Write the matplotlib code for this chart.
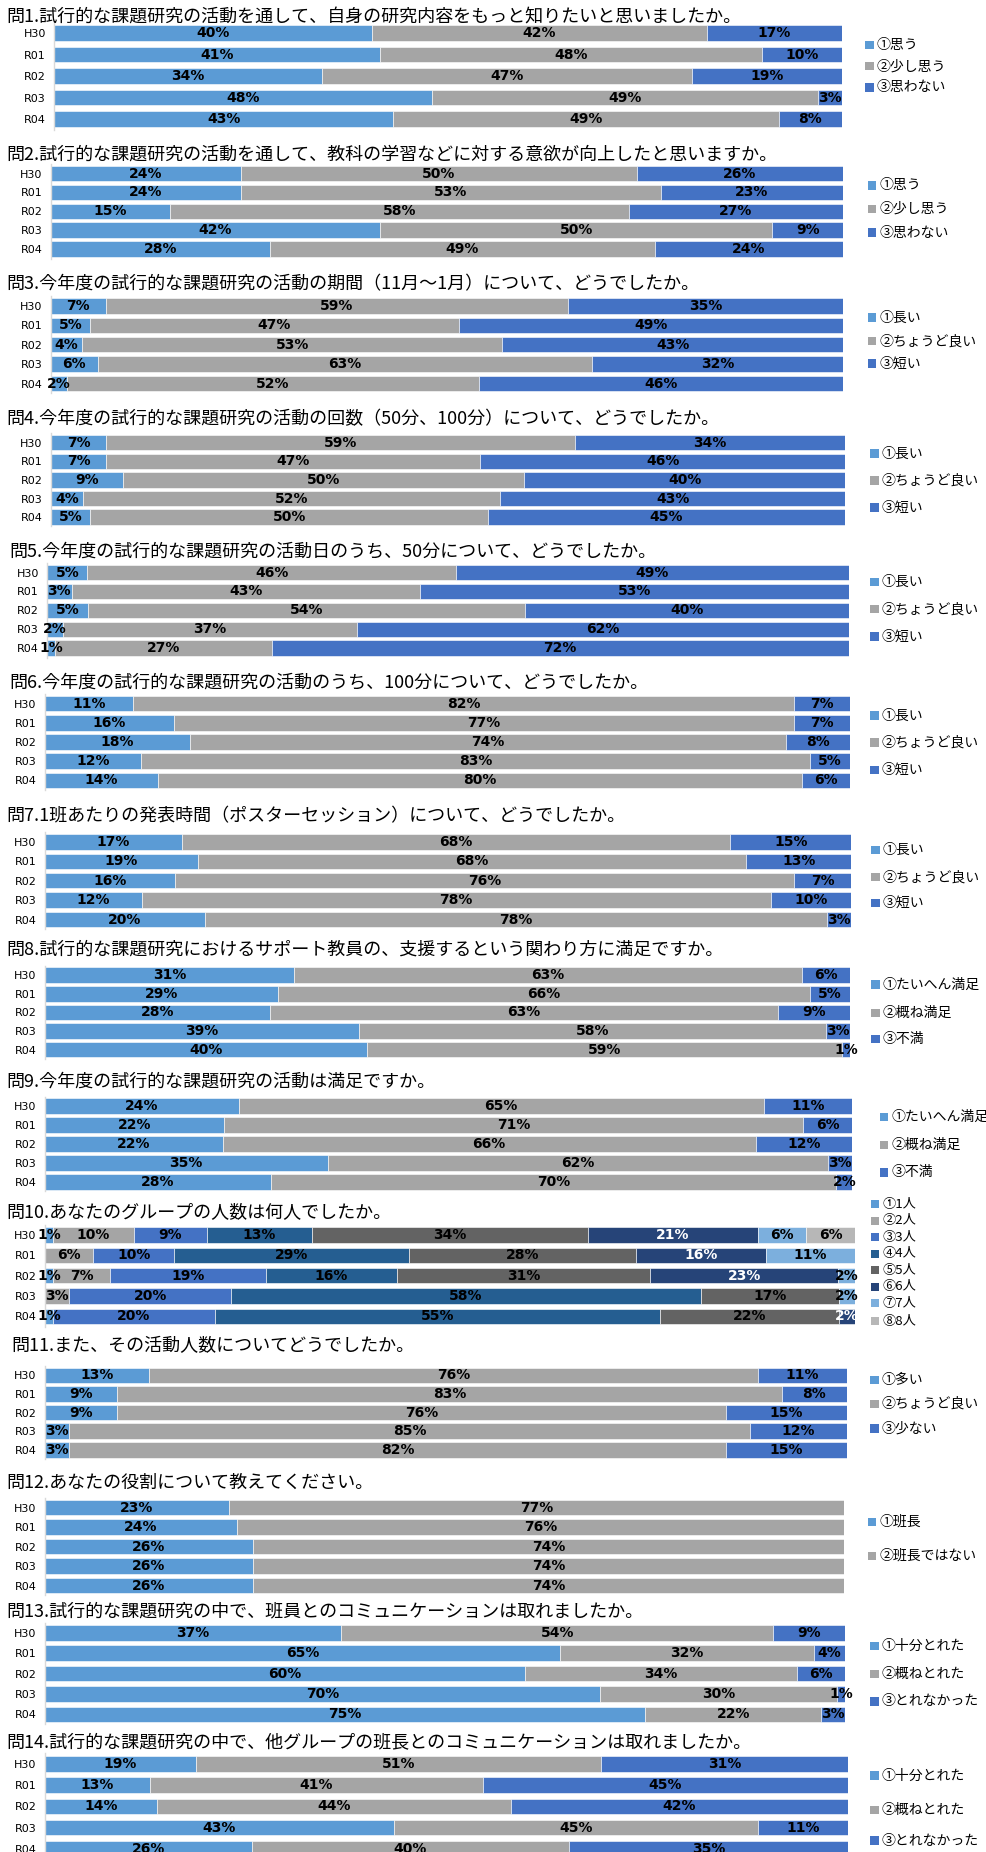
import matplotlib
matplotlib.use("Agg")
import matplotlib.pyplot as plt
import matplotlib.font_manager as fm
from matplotlib.patches import Rectangle

plt.rcParams['font.family'] = ['Noto Sans CJK JP', 'DejaVu Sans']
_names = {f.name for f in fm.fontManager.ttflist}
NARROW = 'Liberation Sans Narrow' if 'Liberation Sans Narrow' in _names else 'DejaVu Sans'

# ---------------- data ----------------
years = ["H30", "R01", "R02", "R03", "R04"]

titles = [
    "問1.試行的な課題研究の活動を通して、自身の研究内容をもっと知りたいと思いましたか。",
    "問2.試行的な課題研究の活動を通して、教科の学習などに対する意欲が向上したと思いますか。",
    "問3.今年度の試行的な課題研究の活動の期間（11月～1月）について、どうでしたか。",
    "問4.今年度の試行的な課題研究の活動の回数（50分、100分）について、どうでしたか。",
    "問5.今年度の試行的な課題研究の活動日のうち、50分について、どうでしたか。",
    "問6.今年度の試行的な課題研究の活動のうち、100分について、どうでしたか。",
    "問7.1班あたりの発表時間（ポスターセッション）について、どうでしたか。",
    "問8.試行的な課題研究におけるサポート教員の、支援するという関わり方に満足ですか。",
    "問9.今年度の試行的な課題研究の活動は満足ですか。",
    "問10.あなたのグループの人数は何人でしたか。",
    "問11.また、その活動人数についてどうでしたか。",
    "問12.あなたの役割について教えてください。",
    "問13.試行的な課題研究の中で、班員とのコミュニケーションは取れましたか。",
    "問14.試行的な課題研究の中で、他グループの班長とのコミュニケーションは取れましたか。",
]

legend_omou = ["①思う", "②少し思う", "③思わない"]
legend_nagai = ["①長い", "②ちょうど良い", "③短い"]
legend_manzoku = ["①たいへん満足", "②概ね満足", "③不満"]
legend_ninzu = ["①1人", "②2人", "③3人", "④4人", "⑤5人", "⑥6人", "⑦7人", "⑧8人"]
legend_ooi = ["①多い", "②ちょうど良い", "③少ない"]
legend_hancho = ["①班長", "②班長ではない"]
legend_toreta = ["①十分とれた", "②概ねとれた", "③とれなかった"]

q1 = [[40, 42, 17], [41, 48, 10], [34, 47, 19], [48, 49, 3], [43, 49, 8]]
q2 = [[24, 50, 26], [24, 53, 23], [15, 58, 27], [42, 50, 9], [28, 49, 24]]
q3 = [[7, 59, 35], [5, 47, 49], [4, 53, 43], [6, 63, 32], [2, 52, 46]]
q4 = [[7, 59, 34], [7, 47, 46], [9, 50, 40], [4, 52, 43], [5, 50, 45]]
q5 = [[5, 46, 49], [3, 43, 53], [5, 54, 40], [2, 37, 62], [1, 27, 72]]
q6 = [[11, 82, 7], [16, 77, 7], [18, 74, 8], [12, 83, 5], [14, 80, 6]]
q7 = [[17, 68, 15], [19, 68, 13], [16, 76, 7], [12, 78, 10], [20, 78, 3]]
q8 = [[31, 63, 6], [29, 66, 5], [28, 63, 9], [39, 58, 3], [40, 59, 1]]
q9 = [[24, 65, 11], [22, 71, 6], [22, 66, 12], [35, 62, 3], [28, 70, 2]]
q10 = [[1, 10, 9, 13, 34, 21, 6, 6],
       [0, 6, 10, 29, 28, 16, 11, 0],
       [1, 7, 19, 16, 31, 23, 2, 0],
       [0, 3, 20, 58, 17, 0, 2, 0],
       [1, 0, 20, 55, 22, 2, 0, 0]]
q11 = [[13, 76, 11], [9, 83, 8], [9, 76, 15], [3, 85, 12], [3, 82, 15]]
q12 = [[23, 77], [24, 76], [26, 74], [26, 74], [26, 74]]
q13 = [[37, 54, 9], [65, 32, 4], [60, 34, 6], [70, 30, 1], [75, 22, 3]]
q14 = [[19, 51, 31], [13, 41, 45], [14, 44, 42], [43, 45, 11], [26, 40, 35]]

questions = [q1, q2, q3, q4, q5, q6, q7, q8, q9, q10, q11, q12, q13, q14]
legends = [legend_omou, legend_omou, legend_nagai, legend_nagai, legend_nagai,
           legend_nagai, legend_nagai, legend_manzoku, legend_manzoku,
           legend_ninzu, legend_ooi, legend_hancho, legend_toreta, legend_toreta]

# ---------------- styles ----------------
colors3 = ['#5B9BD5', '#A5A5A5', '#4472C4']
colors8 = ['#5B9BD5', '#A5A5A5', '#4472C4', '#255E91', '#636363', '#264478', '#7CAFDD', '#B7B7B7']
white_text8 = [False, False, False, False, False, True, False, False]

W, H = 987, 1852
S = 987 / 836.0

# layout in shrunk-reference pixels: title_x, title_y, first_bar_y, last_bar_y, left, right, legend_x, legend_ys
layout = [
    (5, 14, 28, 101, 46, 713, 733, [38, 56, 74]),
    (5, 131, 147, 211, 43, 714, 735, [157, 177, 197]),
    (5, 241, 259, 325, 43, 714, 735, [269, 289, 308]),
    (5, 355, 375, 438, 43, 716, 737, [384, 407, 430]),
    (8, 467, 485, 549, 40, 719, 737, [493, 516, 539]),
    (8, 578, 596, 661, 38, 720, 737, [606, 629, 652]),
    (5, 691, 713, 779, 38, 721, 738, [720, 743, 765]),
    (5, 804, 826, 889, 38, 720, 738, [834, 858, 880]),
    (5, 916, 937, 1001, 38, 722, 745, [946, 970, 993]),
    (5, 1027, 1046, 1115, 38, 724, 738, [1020, 1034, 1048, 1062, 1076, 1090, 1104, 1119]),
    (10, 1140, 1165, 1228, 38, 717, 737, [1169, 1189, 1210]),
    (5, 1256, 1277, 1343, 38, 715, 735, [1289, 1318]),
    (5, 1365, 1383, 1452, 38, 716, 737, [1394, 1418, 1441]),
    (5, 1476, 1494, 1566, 38, 718, 737, [1504, 1533, 1559]),
]

fig = plt.figure(figsize=(W / 100, H / 100), dpi=100)
fig.patch.set_facecolor('white')

for qi, (vals, leg, lay) in enumerate(zip(questions, legends, layout)):
    tx, ty, y0, y1, xl, xr, lx, lys = lay
    tx, ty, y0, y1, xl, xr, lx = [v * S for v in (tx, ty, y0, y1, xl, xr, lx)]
    sp = (y1 - y0) / 4.0
    top = y0 - sp / 2
    bot = y1 + sp / 2
    ax = fig.add_axes([xl / W, 1 - bot / H, (xr - xl) / W, (bot - top) / H])
    ax.set_ylim(4.5, -0.5)
    ax.set_xlim(0, 100)
    bh = min(15.5 / sp, 0.86)
    n = len(vals[0])
    cols = colors8 if n == 8 else colors3
    for ri, row in enumerate(vals):
        tot = float(sum(row))
        left = 0.0
        for si, v in enumerate(row):
            w = v / tot * 100
            if v > 0:
                ax.barh(ri, w, left=left, height=bh, color=cols[si], edgecolor='white', linewidth=0.4)
                tc = 'white' if (n == 8 and white_text8[si]) else 'black'
                ax.text(left + w / 2, ri, f"{v}%", ha='center', va='center', fontsize=10,
                        fontweight='bold', color=tc, family=[NARROW, 'DejaVu Sans'])
            left += w
    ax.set_yticks(range(5))
    ax.set_yticklabels(years, fontsize=8, family=[NARROW, 'DejaVu Sans'])
    ax.tick_params(axis='y', length=0, pad=6)
    ax.set_xticks([])
    for sname in ['top', 'right', 'bottom']:
        ax.spines[sname].set_visible(False)
    ax.spines['left'].set_color('#D9D9D9')
    ax.spines['left'].set_linewidth(1.0)

    fig.text(tx / W, 1 - ty / H, titles[qi], fontsize=13, va='center', ha='left')

    for li, (lab, ly) in enumerate(zip(leg, lys)):
        ly = ly * S
        sq = 8.5 if n != 8 else 8
        fig.add_artist(Rectangle((lx / W, 1 - (ly + sq / 2) / H), sq / W, sq / H,
                                 transform=fig.transFigure, facecolor=cols[li], edgecolor='none'))
        fig.text((lx + sq + 3) / W, 1 - ly / H, lab, fontsize=10 if n != 8 else 9.5,
                 va='center', ha='left')

fig.savefig("out.png", dpi=100, facecolor='white')
